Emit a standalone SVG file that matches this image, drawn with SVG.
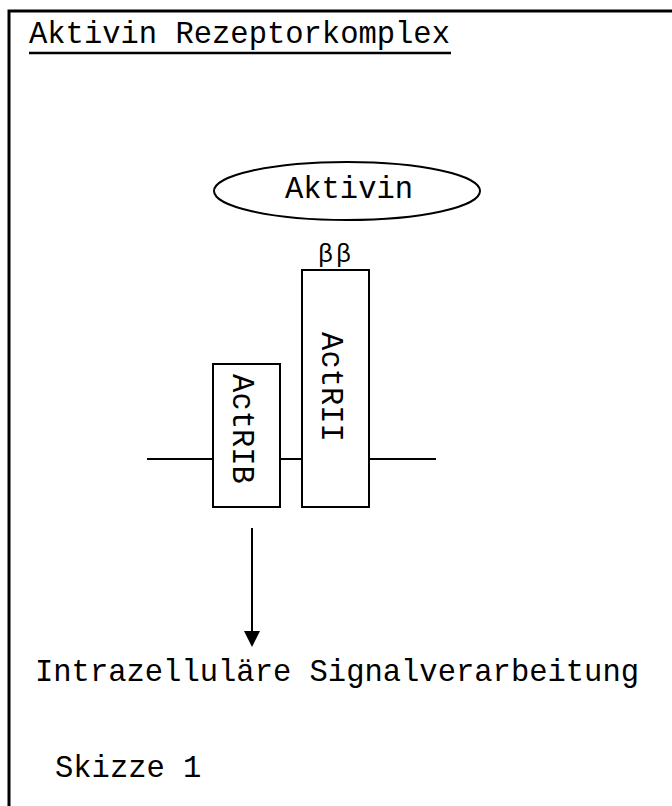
<svg xmlns="http://www.w3.org/2000/svg" width="672" height="806" viewBox="0 0 672 806">
<style>
text{font-family:"Liberation Mono","Courier New",monospace;fill:#000;font-size:30.5px}
.s{fill:none;stroke:#000;stroke-width:2}
.w{fill:#fff;stroke:#000;stroke-width:2}
</style>
<rect x="0" y="0" width="672" height="806" fill="#fff"/>
<rect x="9" y="11" width="680" height="820" fill="none" stroke="#000" stroke-width="3"/>
<g id="title">
<text x="29" y="43">Aktivin Rezeptorkomplex</text>
<line x1="29" y1="53" x2="451" y2="53" stroke="#000" stroke-width="2.5"/>
</g>
<g id="connectors">
<line class="s" x1="147" y1="459" x2="213" y2="459"/>
<line class="s" x1="280" y1="459" x2="302" y2="459"/>
<line class="s" x1="369" y1="459" x2="436" y2="459"/>
<line x1="252" y1="528" x2="252" y2="633" stroke="#000" stroke-width="2"/>
<path d="M244,631 L260,631 L252,647 Z" fill="#000"/>
</g>
<g id="aktivin">
<ellipse class="w" cx="347" cy="191" rx="133" ry="29"/>
<text x="349" y="198" text-anchor="middle">Aktivin</text>
</g>
<g id="bb">
<text x="318" y="262" style="font-size:25px;letter-spacing:3px">ββ</text>
</g>
<g id="actrii">
<rect class="w" x="302" y="270" width="67" height="237"/>
<text transform="translate(322,387) rotate(90)" text-anchor="middle">ActRII</text>
</g>
<g id="actrib">
<rect class="w" x="213" y="364" width="67" height="143"/>
<text transform="translate(233,429) rotate(90)" text-anchor="middle">ActRIB</text>
</g>
<g id="signal">
<text x="35" y="681">Intrazelluläre Signalverarbeitung</text>
</g>
<g id="skizze">
<text x="55" y="777">Skizze 1</text>
</g>
</svg>
